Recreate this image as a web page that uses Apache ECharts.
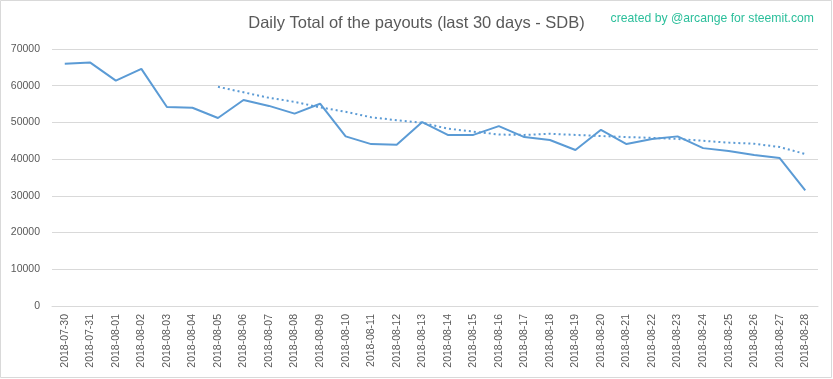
<!DOCTYPE html>
<html>
<head>
<meta charset="utf-8">
<script src="https://cdn.jsdelivr.net/npm/echarts@6/dist/echarts.min.js"></script>
<style>
html,body{margin:0;padding:0;background:#fff;}
#chart{width:833px;height:379px;}
</style>
</head>
<body>
<div id="chart"></div>
<script>
var categories = ["2018-07-30","2018-07-31","2018-08-01","2018-08-02","2018-08-03","2018-08-04","2018-08-05","2018-08-06","2018-08-07","2018-08-08","2018-08-09","2018-08-10","2018-08-11","2018-08-12","2018-08-13","2018-08-14","2018-08-15","2018-08-16","2018-08-17","2018-08-18","2018-08-19","2018-08-20","2018-08-21","2018-08-22","2018-08-23","2018-08-24","2018-08-25","2018-08-26","2018-08-27","2018-08-28"];
var payouts = [66000,66300,61400,64600,54200,54000,51200,56100,54500,52400,55100,46200,44100,43900,50100,46600,46600,49000,46000,45200,42500,48000,44100,45500,46200,43000,42200,41100,40300,31500];
var trend = [null,null,null,null,null,null,59700,58200,56700,55600,54100,52900,51400,50600,49900,48300,47500,46700,46600,46900,46600,46300,46000,45800,45500,45000,44500,44200,43300,41400];
var yTicks = [0,10000,20000,30000,40000,50000,60000,70000];
var titleText = "Daily Total of the payouts (last 30 days - SDB)";
var creditText = "created by @arcange for steemit.com";

var chart = echarts.init(document.getElementById('chart'), null, {renderer:'canvas'});
chart.setOption({
  animation:false,
  backgroundColor:'#fff',
  title:[{
    text:titleText, left:'center', top:10,
    textStyle:{fontFamily:'Liberation Sans', fontSize:16.5, fontWeight:'normal', color:'#595959'}
  },{
    text:creditText, right:14, top:8,
    textStyle:{fontFamily:'Liberation Sans', fontSize:12.2, fontWeight:'normal', color:'#2bbf9b'}
  }],
  graphic:[{type:'rect', shape:{x:0.5,y:0.5,width:831,height:377}, style:{fill:null, stroke:'#d9d9d9', lineWidth:1}, silent:true}],
  grid:{left:52, right:15, top:49, bottom:73},
  xAxis:{
    type:'category', data:categories, boundaryGap:true,
    axisLine:{show:true, lineStyle:{color:'#d9d9d9'}},
    axisTick:{show:false},
    axisLabel:{rotate:90, interval:0, margin:8, color:'#595959', fontFamily:'Liberation Sans', fontSize:10.5}
  },
  yAxis:{
    type:'value', min:yTicks[0], max:yTicks[yTicks.length-1], interval:10000,
    axisLine:{show:false}, axisTick:{show:false},
    splitLine:{lineStyle:{color:'#d9d9d9'}},
    axisLabel:{margin:12, color:'#595959', fontFamily:'Liberation Sans', fontSize:10.5, formatter:function(v){return String(v);}}
  },
  series:[{
    type:'line', data:payouts, symbol:'none',
    lineStyle:{color:'#5b9bd5', width:2}
  },{
    type:'line', data:trend, symbol:'none',
    lineStyle:{color:'#5b9bd5', width:2, type:[2,3]}
  }]
});
</script>
</body>
</html>
